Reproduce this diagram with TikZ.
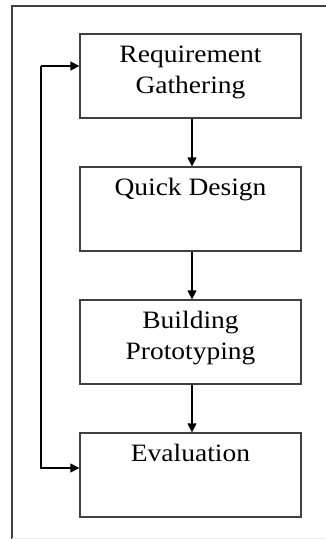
\documentclass[tikz,border=0pt]{standalone}
\usepackage{fontspec}
\setmainfont{Liberation Serif}[FakeStretch=1.1]
\usetikzlibrary{arrows.meta}
\definecolor{edge}{HTML}{404040}
\tikzset{
  stage/.style={draw=edge, line width=1.3pt, minimum width=221pt, minimum height=84pt, inner sep=0pt},
  caption/.style={anchor=north, inner sep=0pt, align=center, font=\fontsize{25}{31}\selectfont},
  flow/.style={draw=black, line width=1.4pt, -{Triangle[length=9pt,width=9pt]}},
}
\newcommand{\topstrut}{\rule{0pt}{20pt}}
\begin{document}
\begin{tikzpicture}[x=1pt,y=-1pt]
\useasboundingbox (0,0) rectangle (326,539);
% outer frame
\draw[edge, line width=1.2pt] (12,539) -- (12,6) -- (326,6);
\draw[black!8, line width=0.8pt] (12,538) -- (326,538);
% stages
\node[stage] (rg) at (190.5,76) {};
\node[stage] (qd) at (190.5,209) {};
\node[stage] (bp) at (190.5,342) {};
\node[stage] (ev) at (190.5,475) {};
\node[caption] (rgt) at ([yshift=-9pt]rg.north) {\topstrut Requirement\\Gathering};
\node[caption] (qdt) at ([yshift=-9pt]qd.north) {\topstrut Quick Design};
\node[caption] (bpt) at ([yshift=-9pt]bp.north) {\topstrut Building\\Prototyping};
\node[caption] (evt) at ([yshift=-9pt]ev.north) {\topstrut Evaluation};
% forward flow
\draw[flow] ([xshift=1.5pt]rg.south) -- ([xshift=1.5pt]qd.north);
\draw[flow] ([xshift=1.5pt]qd.south) -- ([xshift=1.5pt]bp.north);
\draw[flow] ([xshift=1.5pt]bp.south) -- ([xshift=1.5pt]ev.north);
% feedback loop
\coordinate (lt) at (41,66);
\coordinate (lb) at (41,468);
\draw[flow] (lt) -- (lt -| rg.west);
\draw[flow] (lt) -- (lb) -- (lb -| ev.west);
\end{tikzpicture}
\end{document}
